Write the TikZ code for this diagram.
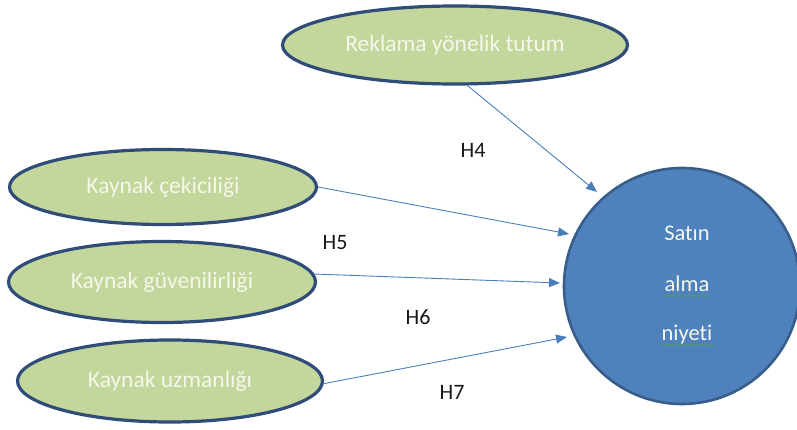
\documentclass[tikz,border=0pt]{standalone}
\usepackage{fontspec}
\setmainfont{Carlito}[Ligatures=CommonOff]
\usetikzlibrary{shapes.geometric,arrows.meta,decorations.pathmorphing,calc}
\definecolor{ellfill}{RGB}{195,214,155}
\definecolor{ellborder}{RGB}{47,77,120}
\definecolor{circfill}{RGB}{79,129,189}
\definecolor{circborder}{RGB}{56,93,138}
\definecolor{arrowcol}{RGB}{74,126,187}
\definecolor{lighttext}{RGB}{245,247,235}
\definecolor{squig}{RGB}{80,160,90}
\tikzset{
  factor/.style={ellipse, draw=ellborder, line width=3.2pt, fill=ellfill, inner sep=0pt,
    text=lighttext, font=\fontsize{23.5}{28}\selectfont},
  target/.style={circle, draw=circborder, line width=2.6pt, fill=circfill, inner sep=0pt},
  ctext/.style={text=lighttext, font=\fontsize{22.5}{27}\selectfont, inner sep=1pt},
  hyp/.style={text=black!90, font=\fontsize{22}{26}\selectfont, inner sep=0pt},
  conn/.style={draw=arrowcol, line width=0.9pt, -{Triangle[length=11pt,width=9pt]}},
  squiggle/.style={draw=squig, line width=0.6pt, decorate,
    decoration={snake, amplitude=0.8pt, segment length=3pt}}
}
\begin{document}
\begin{tikzpicture}[x=1pt,y=-1pt]
\useasboundingbox (0,0) rectangle (797,430);
\node[factor, minimum width=345pt, minimum height=78pt] (top) at (455,45) {Reklama yönelik tutum};
\node[factor, minimum width=307pt, minimum height=75pt] (e1) at (163,187) {Kaynak çekiciliği};
\node[factor, minimum width=307pt, minimum height=81pt] (e2) at (162,282) {Kaynak güvenilirliği};
\node[factor, minimum width=305pt, minimum height=82pt] (e3) at (170,381) {Kaynak uzmanlığı};
\node[target, minimum size=236pt] (c) at (682,286) {};
\node[ctext] (s1) at (687,233) {Satın};
\node[ctext] (s2) at (687,284) {alma};
\node[ctext] (s3) at (687,335) {niyeti};
\draw[squiggle] ($(s2.base west)+(0,4)$) -- ($(s2.base east)+(0,4)$);
\draw[squiggle] ($(s3.base west)+(0,4)$) -- ($(s3.base east)+(0,4)$);
\coordinate (t4) at (597,192);
\coordinate (t5) at (569,234);
\coordinate (t6) at (560,283);
\coordinate (t7) at (567,337);
\draw[conn] (top.-73) -- (t4);
\draw[conn] (e1.east) -- (t5);
\draw[conn] (e2.3) -- (t6);
\draw[conn] (e3.-1) -- (t7);
\node[hyp] (h4) at (473,150) {H4};
\node[hyp] (h5) at (335,243) {H5};
\node[hyp] (h6) at (418,317) {H6};
\node[hyp] (h7) at (452,392) {H7};
\end{tikzpicture}
\end{document}
